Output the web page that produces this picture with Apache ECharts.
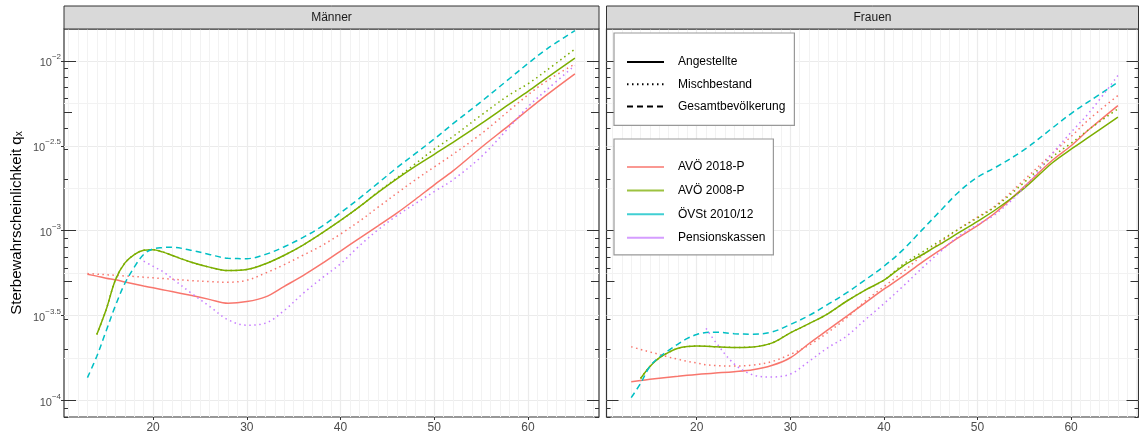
<!DOCTYPE html>
<html>
<head>
<meta charset="utf-8">
<script src="https://cdn.jsdelivr.net/npm/echarts@6/dist/echarts.min.js"></script>
<style>
html,body{margin:0;padding:0;background:#fff}
#chart{width:1139px;height:435px}
</style>
</head>
<body>
<div id="chart"></div>
<script>
// Alter (x)
var ages = [13,14,15,16,17,18,19,20,21,22,24,26,28,30,32,34,36,38,40,42,44,46,48,50,52,55,58,60,62,65];

// Männer, Werte als log10(q_x)
var mAvo18Ang = [-3.257,-3.268,-3.280,-3.290,-3.302,-3.314,-3.326,-3.337,-3.348,-3.359,-3.381,-3.405,-3.428,-3.418,-3.390,-3.328,-3.265,-3.195,-3.120,-3.045,-2.972,-2.897,-2.815,-2.730,-2.648,-2.510,-2.378,-2.288,-2.200,-2.076];
var mAvo18Misch = [-3.253,-3.256,-3.260,-3.263,-3.267,-3.270,-3.274,-3.278,-3.282,-3.286,-3.294,-3.300,-3.304,-3.292,-3.250,-3.200,-3.145,-3.088,-3.020,-2.945,-2.862,-2.780,-2.700,-2.625,-2.550,-2.430,-2.292,-2.200,-2.118,-2.018];
var mAvo08Ang = [null,-3.612,-3.465,-3.288,-3.190,-3.141,-3.116,-3.112,-3.125,-3.145,-3.185,-3.215,-3.235,-3.229,-3.195,-3.145,-3.085,-3.015,-2.940,-2.860,-2.775,-2.695,-2.620,-2.550,-2.480,-2.370,-2.255,-2.180,-2.100,-1.984];
var mAvo08Misch = [null,-3.612,-3.465,-3.288,-3.190,-3.141,-3.116,-3.112,-3.125,-3.145,-3.185,-3.215,-3.235,-3.229,-3.195,-3.145,-3.085,-3.015,-2.940,-2.860,-2.772,-2.690,-2.605,-2.520,-2.445,-2.320,-2.200,-2.135,-2.055,-1.930];
var mOevst = [-3.866,-3.740,-3.590,-3.440,-3.310,-3.215,-3.140,-3.108,-3.100,-3.098,-3.115,-3.140,-3.163,-3.165,-3.140,-3.095,-3.040,-2.975,-2.895,-2.810,-2.720,-2.630,-2.545,-2.460,-2.370,-2.240,-2.105,-2.015,-1.930,-1.822];
var mPk = [null,null,null,null,null,null,-3.180,-3.210,-3.240,-3.280,-3.365,-3.445,-3.525,-3.557,-3.545,-3.470,-3.370,-3.280,-3.195,-3.090,-2.995,-2.912,-2.840,-2.770,-2.700,-2.565,-2.390,-2.270,-2.170,-2.027];

// Frauen
var fAvo18Ang = [-3.890,-3.883,-3.876,-3.870,-3.864,-3.858,-3.852,-3.847,-3.843,-3.839,-3.831,-3.820,-3.795,-3.749,-3.665,-3.585,-3.505,-3.425,-3.345,-3.270,-3.190,-3.115,-3.040,-2.970,-2.890,-2.740,-2.585,-2.500,-2.400,-2.263];
var fAvo18Misch = [-3.684,-3.700,-3.715,-3.729,-3.745,-3.758,-3.770,-3.780,-3.790,-3.795,-3.798,-3.792,-3.772,-3.729,-3.675,-3.600,-3.515,-3.415,-3.330,-3.245,-3.150,-3.070,-2.990,-2.920,-2.850,-2.700,-2.545,-2.445,-2.340,-2.204];
var fAvo08Ang = [null,-3.871,-3.800,-3.750,-3.717,-3.693,-3.683,-3.680,-3.681,-3.684,-3.688,-3.685,-3.663,-3.602,-3.548,-3.490,-3.416,-3.350,-3.292,-3.210,-3.145,-3.080,-3.012,-2.945,-2.874,-2.750,-2.600,-2.520,-2.445,-2.331];
var fAvo08Misch = [null,-3.871,-3.800,-3.750,-3.717,-3.693,-3.683,-3.680,-3.681,-3.684,-3.688,-3.685,-3.663,-3.602,-3.548,-3.490,-3.416,-3.350,-3.292,-3.200,-3.130,-3.060,-2.990,-2.925,-2.855,-2.715,-2.565,-2.485,-2.400,-2.282];
var fOevst = [-3.984,-3.900,-3.800,-3.745,-3.705,-3.668,-3.635,-3.612,-3.600,-3.598,-3.607,-3.610,-3.598,-3.553,-3.500,-3.435,-3.367,-3.290,-3.210,-3.115,-3.000,-2.885,-2.772,-2.685,-2.625,-2.523,-2.395,-2.310,-2.235,-2.126];
var fPk = [null,null,null,null,null,null,null,null,-3.576,-3.655,-3.785,-3.850,-3.862,-3.845,-3.770,-3.690,-3.622,-3.525,-3.430,-3.330,-3.225,-3.125,-3.033,-2.965,-2.900,-2.745,-2.545,-2.420,-2.300,-2.086];

var xTicks = [20,30,40,50,60];
var yTicks = [-4,-3.5,-3,-2.5,-2];
var yMinorTicks = [-3.75,-3.25,-2.75,-2.25];
var tafeln = ['AVÖ 2018-P','AVÖ 2008-P','ÖVSt 2010/12','Pensionskassen'];
var bestaende = ['Angestellte','Mischbestand','Gesamtbevölkerung'];
var farben = ['#F8766D','#7CAE00','#00BFC4','#C77CFF'];

var FONT = '"Liberation Sans", Arial, Helvetica, sans-serif';
var yMin = -4.098, yMax = -1.812;
var linien = {Angestellte:'solid', Mischbestand:[1.5,3.5], 'Gesamtbevölkerung':[6,4]};

// log-Ticks (annotation_logticks): lang bei 10^k, mittel bei 5*10^k, kurz sonst
var logLong = [], logMid = [], logShort = [];
for (var k = -5; k <= -2; k++) {
  for (var m = 1; m <= 9; m++) {
    var v = k + Math.log10(m);
    if (v < yMin || v > yMax) continue;
    if (m === 1) logLong.push(v); else if (m === 5) logMid.push(v); else logShort.push(v);
  }
}

function minorX(lo, hi) {
  var r = [];
  for (var a = Math.ceil(lo); a <= hi; a++) if (a % 10 !== 0) r.push(a);
  return r;
}

function xAxes(gi, lo, hi) {
  return [{
    type:'value', gridIndex:gi, min:lo, max:hi, position:'bottom',
    axisLine:{show:false}, axisLabel:{show:false},
    axisTick:{show:false, customValues:minorX(lo, hi)},
    splitLine:{show:true, lineStyle:{color:'#F2F2F2', width:1}}
  }, {
    type:'value', gridIndex:gi, min:lo, max:hi, position:'bottom',
    axisLine:{show:false},
    axisTick:{show:true, length:3, customValues:xTicks, lineStyle:{color:'#333', width:1}},
    axisLabel:{customValues:xTicks, color:'#4D4D4D', fontSize:12, margin:5, fontFamily:FONT},
    splitLine:{show:true, lineStyle:{color:'#EBEBEB', width:1.2}}
  }];
}

function tickAxis(gi, pos, vals, len) {
  return {
    type:'value', gridIndex:gi, min:yMin, max:yMax, position:pos,
    axisLine:{show:false}, axisLabel:{show:false}, splitLine:{show:false},
    axisTick:{show:true, inside:true, length:len, customValues:vals, lineStyle:{color:'#333', width:1}}
  };
}

function yAxes(gi, labels) {
  var arr = [{
    type:'value', gridIndex:gi, min:yMin, max:yMax, position:'left',
    axisLine:{show:false}, axisLabel:{show:false},
    axisTick:{show:false, customValues:yMinorTicks},
    splitLine:{show:true, lineStyle:{color:'#F2F2F2', width:1}}
  }, {
    type:'value', gridIndex:gi, min:yMin, max:yMax, position:'left',
    axisLine:{show:false},
    axisTick:{show:labels, length:3, customValues:yTicks, lineStyle:{color:'#333', width:1}},
    axisLabel:{show:labels, customValues:yTicks, margin:3,
      formatter:function(v){ return '{b|10}{e|' + String(v).replace('-', '\u2212') + '}'; },
      rich:{
        b:{fontSize:11, color:'#4D4D4D', fontFamily:FONT, lineHeight:16, verticalAlign:'bottom'},
        e:{fontSize:8, color:'#4D4D4D', fontFamily:FONT, verticalAlign:'top'}
      }},
    splitLine:{show:true, lineStyle:{color:'#EBEBEB', width:1.2}}
  }];
  if (labels) {
    arr[1].name = 'Sterbewahrscheinlichkeit q{s|x}';
    arr[1].nameLocation = 'middle';
    arr[1].nameGap = 40;
    arr[1].nameTextStyle = {fontSize:15, color:'#000', fontFamily:FONT,
      rich:{s:{fontSize:10, color:'#000', fontFamily:FONT, verticalAlign:'bottom', lineHeight:14}}};
  }
  ['left','right'].forEach(function(p){
    arr.push(tickAxis(gi, p, logLong, 12));
    arr.push(tickAxis(gi, p, logMid, 8));
    arr.push(tickAxis(gi, p, logShort, 4));
  });
  return arr;
}

function toData(vals) {
  var d = [];
  ages.forEach(function(a, i){ if (vals[i] != null) d.push([a, vals[i]]); });
  return d;
}

var series = [];
// Legendeneinträge (leere Serien)
bestaende.forEach(function(b){
  series.push({name:b, type:'line', xAxisIndex:1, yAxisIndex:1, data:[], symbol:'none',
    lineStyle:{color:'#000', width:1.5, type:linien[b]}, itemStyle:{color:'#000'}});
});
tafeln.forEach(function(t, i){
  series.push({name:t, type:'line', xAxisIndex:1, yAxisIndex:1, data:[], symbol:'none',
    lineStyle:{color:farben[i], width:1.5, type:'solid', opacity:0.75}, itemStyle:{color:farben[i]}});
});

function kurve(panel, xi, yi, tafel, bestand, vals) {
  var c = farben[tafeln.indexOf(tafel)];
  series.push({
    name: panel + ' ' + tafel + ' ' + bestand, type:'line', xAxisIndex:xi, yAxisIndex:yi,
    data: toData(vals), symbol:'none', smooth:0.35, silent:true,
    lineStyle:{color:c, width:1.5, type:linien[bestand]}, itemStyle:{color:c}
  });
}

kurve('Männer', 1, 1, 'AVÖ 2018-P', 'Angestellte', mAvo18Ang);
kurve('Männer', 1, 1, 'AVÖ 2018-P', 'Mischbestand', mAvo18Misch);
kurve('Männer', 1, 1, 'AVÖ 2008-P', 'Angestellte', mAvo08Ang);
kurve('Männer', 1, 1, 'AVÖ 2008-P', 'Mischbestand', mAvo08Misch);
kurve('Männer', 1, 1, 'ÖVSt 2010/12', 'Gesamtbevölkerung', mOevst);
kurve('Männer', 1, 1, 'Pensionskassen', 'Mischbestand', mPk);

kurve('Frauen', 3, 9, 'AVÖ 2018-P', 'Angestellte', fAvo18Ang);
kurve('Frauen', 3, 9, 'AVÖ 2018-P', 'Mischbestand', fAvo18Misch);
kurve('Frauen', 3, 9, 'AVÖ 2008-P', 'Angestellte', fAvo08Ang);
kurve('Frauen', 3, 9, 'AVÖ 2008-P', 'Mischbestand', fAvo08Misch);
kurve('Frauen', 3, 9, 'ÖVSt 2010/12', 'Gesamtbevölkerung', fOevst);
kurve('Frauen', 3, 9, 'Pensionskassen', 'Mischbestand', fPk);

function strip(x, w, text) {
  return [{
    type:'rect', shape:{x:x, y:6, width:w, height:23}, z:10,
    style:{fill:'#D9D9D9', stroke:'#333', lineWidth:1}
  }, {
    type:'text', x:x + w / 2, y:18, z:11,
    style:{text:text, fill:'#1A1A1A', fontSize:12, fontFamily:FONT, align:'center', verticalAlign:'middle'}
  }];
}

function legende(names, top, gap, pad) {
  return {
    data:names, top:top, itemGap:gap, padding:pad,
    orient:'vertical', left:614, itemWidth:37, itemHeight:14, selectedMode:false,
    backgroundColor:'#fff', borderColor:'#999', borderWidth:1.2, borderRadius:0,
    itemStyle:{opacity:0},
    textStyle:{fontSize:12, color:'#000', fontFamily:FONT, padding:[0,0,0,9]}
  };
}

var option = {
  animation:false,
  backgroundColor:'#fff',
  textStyle:{fontFamily:FONT},
  grid:[
    {left:64, top:29, width:535, height:388, show:true, borderColor:'#333', borderWidth:1.2, backgroundColor:'#fff'},
    {left:606.5, top:29, width:532, height:388, show:true, borderColor:'#333', borderWidth:1.2, backgroundColor:'#fff'}
  ],
  xAxis: xAxes(0, 10.5, 67.57).concat(xAxes(1, 10.36, 67.2)),
  yAxis: yAxes(0, true).concat(yAxes(1, false)),
  legend:[
    legende(bestaende, 33, 10.2, [23,9,13,12]),
    legende(tafeln, 139, 11.6, [22,8,11,12])
  ],
  graphic: strip(64, 535, 'Männer').concat(strip(606.5, 532, 'Frauen')),
  series: series
};

var chart = echarts.init(document.getElementById('chart'));
chart.setOption(option);
window.addEventListener('resize', function(){ chart.resize(); });
</script>
</body>
</html>
